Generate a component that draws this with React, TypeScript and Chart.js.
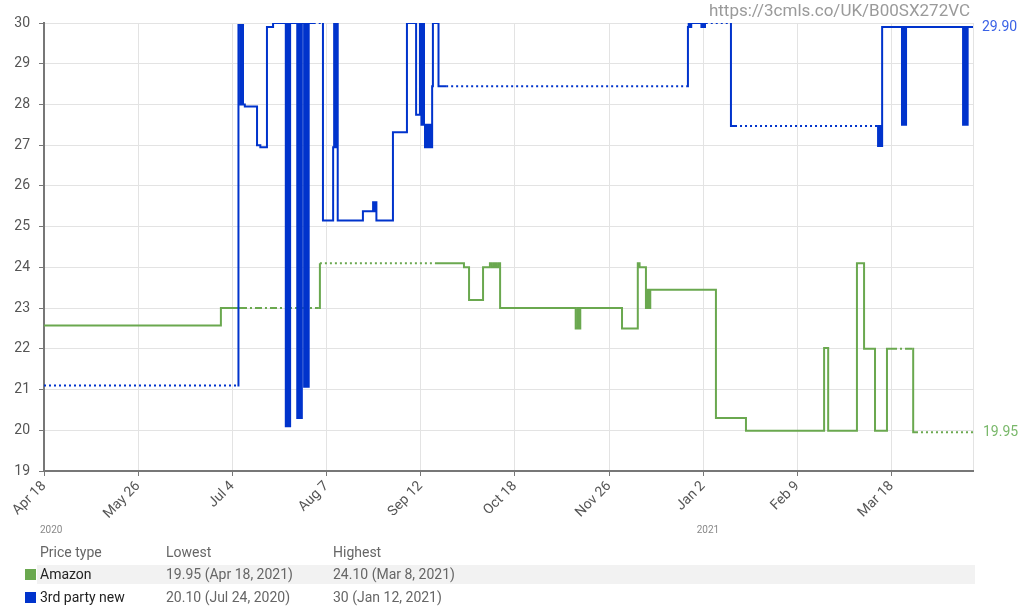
import React, { useEffect, useRef } from 'react';
import { Chart, registerables } from 'chart.js';

Chart.register(...registerables);

// ---------- data ----------
// x = days since Apr 18, 2020
const xTickDays = [0, 37, 74, 111, 148, 185, 222, 259, 296, 333, 365];
const xTickLabels = ['Apr 18', 'May 26', 'Jul 4', 'Aug 7', 'Sep 12', 'Oct 18', 'Nov 26', 'Jan 2', 'Feb 9', 'Mar 18', ''];
const yearLabels = ['2020', '2021'];
const yearDays = [0, 258];

const amazonDays = [
  0, 69.5, 77.0, 108.0, 108.4, 153.6, 165.0, 167.0, 172.5,
  175.2, 176.0, 176.8, 177.6, 178.4, 179.2,
  208.9, 209.7, 210.1, 210.7, 227.1,
  233.3, 234.0, 236.5, 237.2, 237.6, 238.2,
  264.0, 275.8, 306.5, 308.1, 319.4, 322.2, 326.5, 331.2, 332.4, 341.1, 341.5, 342.6, 365,
];
const amazonPrices = [
  22.57, 23.0, 23.0, 23.0, 24.1, 24.1, 24.0, 23.2, 24.0,
  24.1, 24.0, 24.1, 24.0, 24.1, 23.0,
  22.5, 23.0, 22.5, 23.0, 22.5,
  24.1, 24.0, 23.0, 23.45, 23.0, 23.45,
  20.3, 19.99, 22.02, 19.99, 24.1, 22.0, 19.99, 22.0, 22.0, 22.0, 19.95, 19.95, 19.95,
];
const amazonDotted = [[108.4, 153.6], [342.6, 365]];
const amazonDashDot = [[77.0, 108.0], [332.4, 341.1]];

const thirdDays = [
  0, 76.0, 76.4, 77.2, 77.6, 78.2, 78.9, 83.7, 85.0, 87.6, 90.0,
  95.0, 95.6, 96.0, 96.7, 99.5, 100.1, 100.6, 101.3, 102.2, 102.8, 103.3, 104.0,
  109.2, 109.6, 113.6, 114.0, 114.5, 114.9, 115.4,
  125.3, 129.3, 129.8, 130.2, 130.6, 137.1, 142.6, 146.2,
  147.7, 148.3, 148.8, 149.3, 149.7, 150.3, 150.8, 151.3, 151.9, 152.5, 152.8, 155.0, 158.0,
  252.6, 253.0, 253.3, 253.8, 254.3, 258.3, 258.8, 259.3, 259.7, 260.0, 269.5, 269.9, 271.5,
  327.3, 327.7, 328.3, 328.7, 329.3, 337.1, 337.7, 338.1, 338.7, 361.1, 361.7, 362.3, 362.9, 365,
];
const thirdPrices = [
  21.1, 21.1, 29.95, 28.0, 29.95, 28.0, 27.95, 27.0, 26.95, 29.9, 30,
  20.1, 30, 20.1, 30, 20.3, 30, 20.3, 30, 21.07, 30, 21.07, 30,
  30, 25.15, 26.95, 30, 26.95, 30, 25.15,
  25.38, 25.6, 25.38, 25.6, 25.15, 27.32, 30, 27.75,
  30, 27.5, 30, 27.5, 26.95, 27.5, 26.95, 27.5, 26.95, 28.45, 30, 28.45, 28.45,
  28.45, 29.9, 30, 29.9, 30, 29.9, 30, 29.9, 30, 30, 30, 27.47, 27.47,
  27.47, 26.98, 27.47, 26.98, 29.9, 27.5, 29.9, 27.5, 29.9, 27.5, 29.9, 27.5, 29.9, 29.9,
];
const thirdDotted = [[0, 76.0], [158.0, 252.6], [260.0, 269.5], [271.5, 327.3]];
const thirdDashDot = [[104.0, 109.2]];

const tableHeaders = ['Price type', 'Lowest', 'Highest'];
const seriesNames = ['Amazon', '3rd party new'];
const lowestLabels = ['19.95 (Apr 18, 2021)', '20.10 (Jul 24, 2020)'];
const highestLabels = ['24.10 (Mar 8, 2021)', '30 (Jan 12, 2021)'];
const urlText = 'https://3cmls.co/UK/B00SX272VC';

// ---------- styles ----------
const GREEN = '#6aa84f';
const BLUE = '#0033cc';
const FONT = 'Roboto';

const inRange = (ranges: number[][], a: number, b: number) =>
  ranges.some(([s, e]) => a >= s - 1e-6 && b <= e + 1e-6);

const makeSegment = (days: number[], dotted: number[][], dashDot: number[][]) => ({
  borderDash: (ctx: any) => {
    const a = days[ctx.p0DataIndex];
    const b = days[ctx.p1DataIndex];
    if (inRange(dotted, a, b)) return [2, 3];
    if (inRange(dashDot, a, b)) return [7, 3, 2, 3];
    return undefined;
  },
});

const overlayPlugin = {
  id: 'overlay',
  afterDraw(chart: any) {
    const { ctx, chartArea, scales } = chart;
    const x = scales.x;
    const y = scales.y;
    ctx.save();
    ctx.font = `14px ${FONT}`;
    ctx.textBaseline = 'middle';
    ctx.textAlign = 'left';
    const lastThird = thirdPrices[thirdPrices.length - 1];
    const lastAmazon = amazonPrices[amazonPrices.length - 1];
    ctx.fillStyle = '#3a62e6';
    ctx.fillText(lastThird.toFixed(2), chartArea.right + 9, y.getPixelForValue(lastThird));
    ctx.fillStyle = '#79b86a';
    ctx.fillText(lastAmazon.toFixed(2), chartArea.right + 10, y.getPixelForValue(lastAmazon));
    ctx.font = `10px ${FONT}`;
    ctx.fillStyle = '#888';
    yearLabels.forEach((t, i) => {
      ctx.fillText(t, x.getPixelForValue(yearDays[i]) - 4, 530);
    });
    ctx.restore();
  },
};

export default function App() {
  const ref = useRef<HTMLCanvasElement | null>(null);

  useEffect(() => {
    if (!ref.current) return;
    const chart = new Chart(ref.current, {
      type: 'line',
      data: {
        datasets: [
          {
            label: '3rd party new',
            data: thirdDays.map((d, i) => ({ x: d, y: thirdPrices[i] })),
            borderColor: BLUE,
            borderWidth: 2,
            pointRadius: 0,
            stepped: 'before',
            order: 1,
            segment: makeSegment(thirdDays, thirdDotted, thirdDashDot),
          },
          {
            label: 'Amazon',
            data: amazonDays.map((d, i) => ({ x: d, y: amazonPrices[i] })),
            borderColor: GREEN,
            borderWidth: 2,
            pointRadius: 0,
            stepped: 'before',
            order: 2,
            segment: makeSegment(amazonDays, amazonDotted, amazonDashDot),
          },
        ],
      },
      options: {
        animation: false,
        responsive: false,
        devicePixelRatio: 1,
        layout: { padding: { top: 23, right: 52, left: 0, bottom: 0 } },
        plugins: { legend: { display: false }, tooltip: { enabled: false } },
        scales: {
          x: {
            type: 'linear',
            min: 0,
            max: 365,
            afterBuildTicks: (scale: any) => {
              scale.ticks = xTickDays.map((v) => ({ value: v }));
            },
            afterFit: (scale: any) => {
              scale.height = 141;
            },
            ticks: {
              autoSkip: false,
              minRotation: 45,
              maxRotation: 45,
              padding: 2,
              color: '#555',
              font: { family: FONT, size: 14 },
              callback: (_v: any, i: number) => xTickLabels[i] ?? '',
            },
            grid: {
              color: '#e3e3e3',
              tickLength: 5,
              tickColor: (ctx: any) => (ctx.index === xTickDays.length - 1 ? 'rgba(0,0,0,0)' : '#777'),
            },
            border: { color: '#777', width: 2 },
          },
          y: {
            min: 19,
            max: 30,
            afterFit: (scale: any) => {
              scale.width = 44;
            },
            ticks: {
              stepSize: 1,
              padding: 9,
              color: '#555',
              font: { family: FONT, size: 14 },
            },
            grid: { color: '#e3e3e3', tickLength: 5, tickColor: '#777' },
            border: { color: '#777', width: 2 },
          },
        },
      },
      plugins: [overlayPlugin],
    } as any);
    return () => chart.destroy();
  }, []);

  const cellStyle = (left: number, top: number, color: string): React.CSSProperties => ({
    position: 'absolute',
    left,
    top,
    height: 20,
    lineHeight: '20px',
    fontFamily: FONT,
    fontSize: 14,
    color,
    whiteSpace: 'nowrap',
  });

  const rowTops = [564, 587];
  const swatch = [GREEN, BLUE];

  return (
    <div style={{ position: 'absolute', left: 0, top: 0, width: 1025, height: 612, background: '#fff' }}>
      <canvas ref={ref} width={1025} height={612} style={{ position: 'absolute', left: 0, top: 0 }} />
      <div
        style={{
          position: 'absolute',
          left: 0,
          top: 0,
          width: 970,
          textAlign: 'right',
          fontFamily: FONT,
          fontSize: 17,
          lineHeight: '20px',
          color: '#9a9a9a',
        }}
      >
        {urlText}
      </div>
      <div style={cellStyle(40, 542, '#666')}>{tableHeaders[0]}</div>
      <div style={cellStyle(166, 542, '#666')}>{tableHeaders[1]}</div>
      <div style={cellStyle(333, 542, '#666')}>{tableHeaders[2]}</div>
      <div style={{ position: 'absolute', left: 37, top: 565, width: 938, height: 19, background: '#f2f2f2' }} />
      {seriesNames.map((name, i) => (
        <React.Fragment key={name}>
          <div
            style={{
              position: 'absolute',
              left: 25,
              top: rowTops[i] + 5,
              width: 11,
              height: 11,
              background: swatch[i],
            }}
          />
          <div style={cellStyle(40, rowTops[i], '#222')}>{name}</div>
          <div style={cellStyle(166, rowTops[i], '#666')}>{lowestLabels[i]}</div>
          <div style={cellStyle(333, rowTops[i], '#666')}>{highestLabels[i]}</div>
        </React.Fragment>
      ))}
    </div>
  );
}
